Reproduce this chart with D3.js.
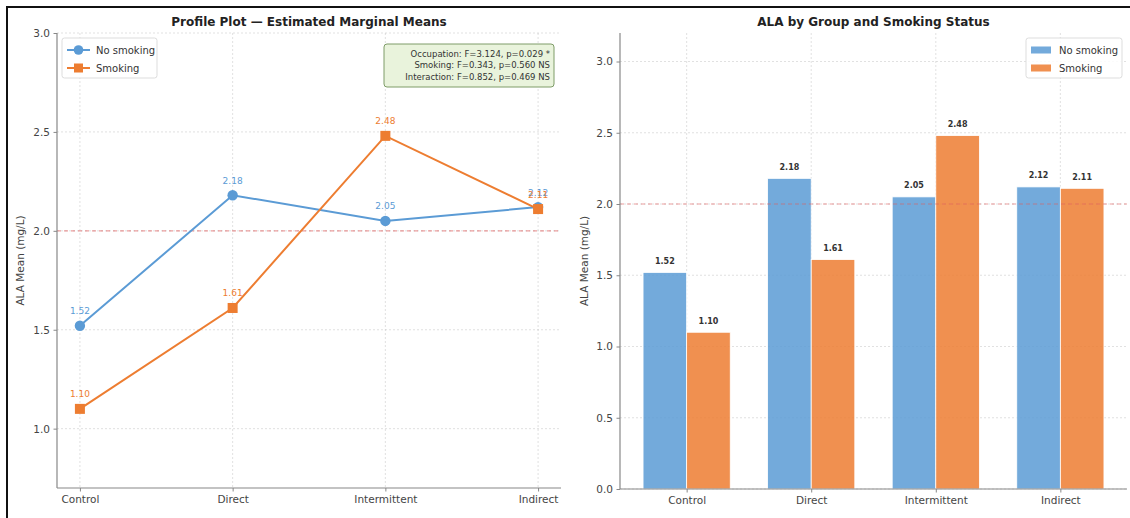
<!DOCTYPE html>
<html>
<head>
<meta charset="utf-8">
<script src="https://cdn.jsdelivr.net/npm/d3@7"></script>
<style>
  html, body { margin: 0; padding: 0; background: #fff; }
  svg { display: block; font-family: "DejaVu Sans", sans-serif; }
</style>
</head>
<body>
<svg id="chart" width="1130" height="518"></svg>
<script>
// Groups and mean ALA per smoking status
const categories = ["Control", "Direct", "Intermittent", "Indirect"];
const noSmoking = [1.52, 2.18, 2.05, 2.12];
const smoking = [1.10, 1.61, 2.48, 2.11];
const seriesNames = ["No smoking", "Smoking"];
const profileTicks = [1.0, 1.5, 2.0, 2.5, 3.0];
const barTicks = [0.0, 0.5, 1.0, 1.5, 2.0, 2.5, 3.0];
const statsLines = [
  "Occupation: F=3.124, p=0.029 *",
  "Smoking: F=0.343, p=0.560 NS",
  "Interaction: F=0.852, p=0.469 NS"
];
const referenceValue = 2.0;

const BLUE = "#5b9bd5", ORANGE = "#ed7d31";
const TICK_TEXT = "#444", SPINE = "#888";

const svg = d3.select("#chart");

// outer frame (left and top edges)
svg.append("line").attr("x1", 7).attr("x2", 7).attr("y1", 6).attr("y2", 518)
  .attr("stroke", "#111").attr("stroke-width", 2);
svg.append("line").attr("x1", 6).attr("x2", 1130).attr("y1", 7).attr("y2", 7)
  .attr("stroke", "#111").attr("stroke-width", 2);

function styleAxis(g) {
  g.select(".domain").attr("stroke", SPINE).attr("stroke-width", 1.2);
  g.selectAll(".tick line").attr("stroke", SPINE).attr("stroke-width", 1);
  g.selectAll(".tick text").attr("fill", TICK_TEXT).attr("font-size", 10.5)
    .attr("font-family", "DejaVu Sans, sans-serif");
}

function gridLines(g, xs, ys, x0, x1, y0, y1) {
  xs.forEach(x => g.append("line").attr("x1", x).attr("x2", x).attr("y1", y0).attr("y2", y1)
    .attr("stroke", "#bbb").attr("stroke-width", 0.8).attr("stroke-dasharray", "2,2").attr("opacity", 0.55));
  ys.forEach(y => g.append("line").attr("x1", x0).attr("x2", x1).attr("y1", y).attr("y2", y)
    .attr("stroke", "#bbb").attr("stroke-width", 0.8).attr("stroke-dasharray", "2,2").attr("opacity", 0.55));
}

// ---------- Left panel: profile plot ----------
{
  const L = 57, R = 561, T = 33, B = 488;
  const x = d3.scalePoint().domain(categories).range([L, R]).padding(0.15);
  const y = d3.scaleLinear().domain([0.7, 3.0]).range([B, T]);
  const g = svg.append("g");

  gridLines(g, categories.map(c => x(c)), profileTicks.map(v => y(v)), L, R, T, B);

  g.append("line").attr("x1", L).attr("x2", R)
    .attr("y1", y(referenceValue)).attr("y2", y(referenceValue))
    .attr("stroke", "#e06060").attr("stroke-width", 1.2).attr("stroke-dasharray", "4,3").attr("opacity", 0.6);

  const ya = g.append("g").attr("transform", `translate(${L},0)`)
    .call(d3.axisLeft(y).tickValues(profileTicks).tickFormat(d3.format(".1f")).tickSize(3.5).tickPadding(3.5));
  styleAxis(ya);
  ya.select(".domain").attr("d", `M-0,${B}V${T}`);
  const xa = g.append("g").attr("transform", `translate(0,${B})`)
    .call(d3.axisBottom(x).tickSize(3.5).tickPadding(4));
  styleAxis(xa);
  xa.select(".domain").attr("d", `M${L},0H${R}`);

  const line = d3.line().x((d, i) => x(categories[i])).y(d => y(d));
  [[noSmoking, BLUE, "circle"], [smoking, ORANGE, "square"]].forEach(([vals, col, shape]) => {
    g.append("path").attr("d", line(vals)).attr("fill", "none")
      .attr("stroke", col).attr("stroke-width", 2);
    vals.forEach((v, i) => {
      const cx = x(categories[i]), cy = y(v);
      if (shape === "circle") {
        g.append("circle").attr("cx", cx).attr("cy", cy).attr("r", 5.2).attr("fill", col);
      } else {
        g.append("rect").attr("x", cx - 5).attr("y", cy - 5).attr("width", 10).attr("height", 10).attr("fill", col);
      }
      g.append("text").attr("x", cx).attr("y", cy - 11.5).attr("text-anchor", "middle")
        .attr("font-size", 9).attr("fill", col).text(v.toFixed(2));
    });
  });

  g.append("text").attr("x", (L + R) / 2).attr("y", 26).attr("text-anchor", "middle")
    .attr("font-size", 12).attr("font-weight", "bold").attr("fill", "#222")
    .text("Profile Plot — Estimated Marginal Means");

  g.append("text").attr("transform", `translate(24,${(T + B) / 2}) rotate(-90)`)
    .attr("text-anchor", "middle").attr("font-size", 10.5).attr("fill", TICK_TEXT)
    .text("ALA Mean (mg/L)");

  // legend
  const lg = g.append("g");
  lg.append("rect").attr("x", 62).attr("y", 38).attr("width", 95).attr("height", 40).attr("rx", 2.5)
    .attr("fill", "#fff").attr("fill-opacity", 0.85).attr("stroke", "#ddd");
  [[BLUE, "circle", 50], [ORANGE, "square", 68]].forEach(([col, shape, ly], i) => {
    lg.append("line").attr("x1", 67).attr("x2", 90).attr("y1", ly).attr("y2", ly)
      .attr("stroke", col).attr("stroke-width", 2);
    if (shape === "circle") lg.append("circle").attr("cx", 78.5).attr("cy", ly).attr("r", 4.8).attr("fill", col);
    else lg.append("rect").attr("x", 74).attr("y", ly - 4.5).attr("width", 9).attr("height", 9).attr("fill", col);
    lg.append("text").attr("x", 96).attr("y", ly + 3.6).attr("font-size", 10).attr("fill", "#333").text(seriesNames[i]);
  });

  // ANOVA summary box
  const sb = g.append("g");
  sb.append("rect").attr("x", 384).attr("y", 44).attr("width", 170).attr("height", 43).attr("rx", 3)
    .attr("fill", "#e9f3dc").attr("stroke", "#7e9c68").attr("stroke-width", 1);
  statsLines.forEach((s, i) => {
    sb.append("text").attr("x", 550).attr("y", 56.5 + i * 11.5).attr("text-anchor", "end")
      .attr("font-size", 8.5).attr("fill", "#333").text(s);
  });
}

// ---------- Right panel: grouped bars ----------
{
  const L = 620, R = 1127, T = 33, B = 489;
  const x = d3.scalePoint().domain(categories).range([L, R]).padding(0.535);
  const bw = x.step() * 0.35;
  const y = d3.scaleLinear().domain([0, 3.2]).range([B, T]);
  const g = svg.append("g");

  gridLines(g, categories.map(c => x(c)), barTicks.map(v => y(v)), L, R, T, B);

  const series = [[noSmoking, BLUE, -1], [smoking, ORANGE, 0]];
  series.forEach(([vals, col, off]) => {
    vals.forEach((v, i) => {
      const bx = x(categories[i]) + off * bw;
      g.append("rect").attr("x", bx).attr("y", y(v)).attr("width", bw).attr("height", y(0) - y(v))
        .attr("fill", col).attr("fill-opacity", 0.85).attr("stroke", "#fff").attr("stroke-width", 0.8);
      g.append("text").attr("x", bx + bw / 2).attr("y", y(v) - 8.5).attr("text-anchor", "middle")
        .attr("font-size", 8).attr("font-weight", "bold").attr("fill", "#333").text(v.toFixed(2));
    });
  });

  g.append("line").attr("x1", L).attr("x2", R)
    .attr("y1", y(referenceValue)).attr("y2", y(referenceValue))
    .attr("stroke", "#e06060").attr("stroke-width", 1.2).attr("stroke-dasharray", "4,3").attr("opacity", 0.6);

  const ya = g.append("g").attr("transform", `translate(${L},0)`)
    .call(d3.axisLeft(y).tickValues(barTicks).tickFormat(d3.format(".1f")).tickSize(3.5).tickPadding(3.5));
  styleAxis(ya);
  ya.select(".domain").attr("d", `M-0,${B}V${T}`);
  const xa = g.append("g").attr("transform", `translate(0,${B})`)
    .call(d3.axisBottom(x).tickSize(3.5).tickPadding(4));
  styleAxis(xa);
  xa.select(".domain").attr("d", `M${L},0H${R}`);

  g.append("text").attr("x", (L + R) / 2).attr("y", 26).attr("text-anchor", "middle")
    .attr("font-size", 12).attr("font-weight", "bold").attr("fill", "#222")
    .text("ALA by Group and Smoking Status");

  g.append("text").attr("transform", `translate(588,${(T + B) / 2}) rotate(-90)`)
    .attr("text-anchor", "middle").attr("font-size", 10.5).attr("fill", TICK_TEXT)
    .text("ALA Mean (mg/L)");

  const lg = g.append("g");
  lg.append("rect").attr("x", 1026).attr("y", 38).attr("width", 96).attr("height", 40).attr("rx", 2.5)
    .attr("fill", "#fff").attr("fill-opacity", 0.85).attr("stroke", "#ddd");
  [[BLUE, 50], [ORANGE, 68]].forEach(([col, ly], i) => {
    lg.append("rect").attr("x", 1031).attr("y", ly - 3.5).attr("width", 20).attr("height", 7)
      .attr("fill", col).attr("fill-opacity", 0.85);
    lg.append("text").attr("x", 1059).attr("y", ly + 3.6).attr("font-size", 10).attr("fill", "#333").text(seriesNames[i]);
  });
}
</script>
</body>
</html>
